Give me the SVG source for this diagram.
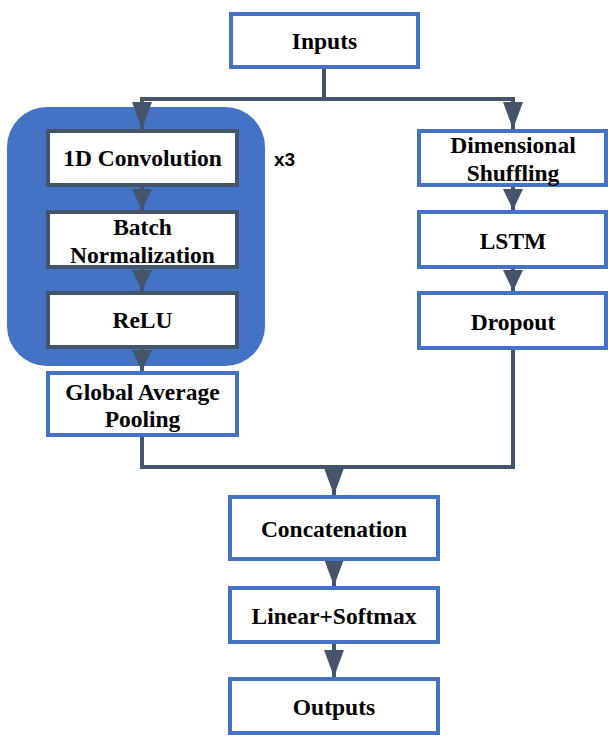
<svg xmlns="http://www.w3.org/2000/svg" width="608" height="736" viewBox="0 0 608 736">
<style>
.bb{fill:#fff;stroke:#4472C4;stroke-width:4}
.db{fill:#fff;stroke:#44546A;stroke-width:4}
.t{font-family:"Liberation Serif","Times New Roman",serif;font-weight:bold;font-size:23.5px;fill:#000;text-anchor:middle}
.c{fill:none;stroke:#44546A;stroke-width:4}
.a{fill:none;stroke:#44546A;stroke-width:4;marker-end:url(#ah)}
.A{fill:none;stroke:#44546A;stroke-width:4;marker-end:url(#AH)}
</style>
<defs>
<marker id="ah" markerUnits="userSpaceOnUse" markerWidth="22" markerHeight="22" viewBox="0 0 22 22" refX="21" refY="10" orient="auto">
<path d="M0,0 L21,10 L0,20 Z" fill="#44546A"/>
</marker>
<marker id="AH" markerUnits="userSpaceOnUse" markerWidth="28" markerHeight="22" viewBox="0 0 28 22" refX="27" refY="10" orient="auto">
<path d="M0,0 L27,10 L0,20 Z" fill="#44546A"/>
</marker>
</defs>
<rect id="loop" x="7" y="107" width="258" height="259" rx="40" ry="40" fill="#4472C4"/>
<g id="connectors">
<path class="c" d="M324,69 V99 M142,99 H513"/>
<path class="A" d="M142,97 V129"/>
<path class="A" d="M513,97 V129"/>
<path class="a" d="M142,187 V210"/>
<path class="a" d="M142,269 V291"/>
<path class="a" d="M142,349 V371"/>
<path class="a" d="M513,187 V210"/>
<path class="a" d="M513,269 V291"/>
<path class="c" d="M142,437 V467 H513 V350"/>
<path class="A" d="M334,465 V495"/>
<path class="A" d="M334,559 V586"/>
<path class="A" d="M334,642 V677"/>
</g>
<g id="inputs"><rect class="bb" x="231" y="14" width="187" height="53"/><text class="t" x="324.5" y="49">Inputs</text></g>
<g id="conv"><rect class="db" x="48" y="131" width="189" height="54"/><text class="t" x="142.5" y="166">1D Convolution</text></g>
<g id="x3"><text x="274" y="166" font-family="Liberation Sans, Arial, sans-serif" font-weight="bold" font-size="19" fill="#000">x3</text></g>
<g id="bn"><rect class="db" x="48" y="212" width="189" height="55"/><text class="t" x="142.5" y="235">Batch</text><text class="t" x="142.5" y="263">Normalization</text></g>
<g id="relu"><rect class="db" x="48" y="293" width="189" height="54"/><text class="t" x="142.5" y="328">ReLU</text></g>
<g id="gap"><rect class="bb" x="48" y="373" width="189" height="62"/><text class="t" x="142.5" y="400">Global Average</text><text class="t" x="142.5" y="427">Pooling</text></g>
<g id="shuffle"><rect class="bb" x="419" y="131" width="187" height="54"/><text class="t" x="513" y="153">Dimensional</text><text class="t" x="513" y="181">Shuffling</text></g>
<g id="lstm"><rect class="bb" x="419" y="212" width="187" height="55"/><text class="t" x="513" y="249">LSTM</text></g>
<g id="dropout"><rect class="bb" x="419" y="293" width="187" height="55"/><text class="t" x="513" y="330">Dropout</text></g>
<g id="concat"><rect class="bb" x="230" y="497" width="208" height="62"/><text class="t" x="334" y="537">Concatenation</text></g>
<g id="linear"><rect class="bb" x="230" y="588" width="208" height="54"/><text class="t" x="334" y="624">Linear+Softmax</text></g>
<g id="outputs"><rect class="bb" x="230" y="679" width="208" height="54"/><text class="t" x="334" y="715">Outputs</text></g>
</svg>
